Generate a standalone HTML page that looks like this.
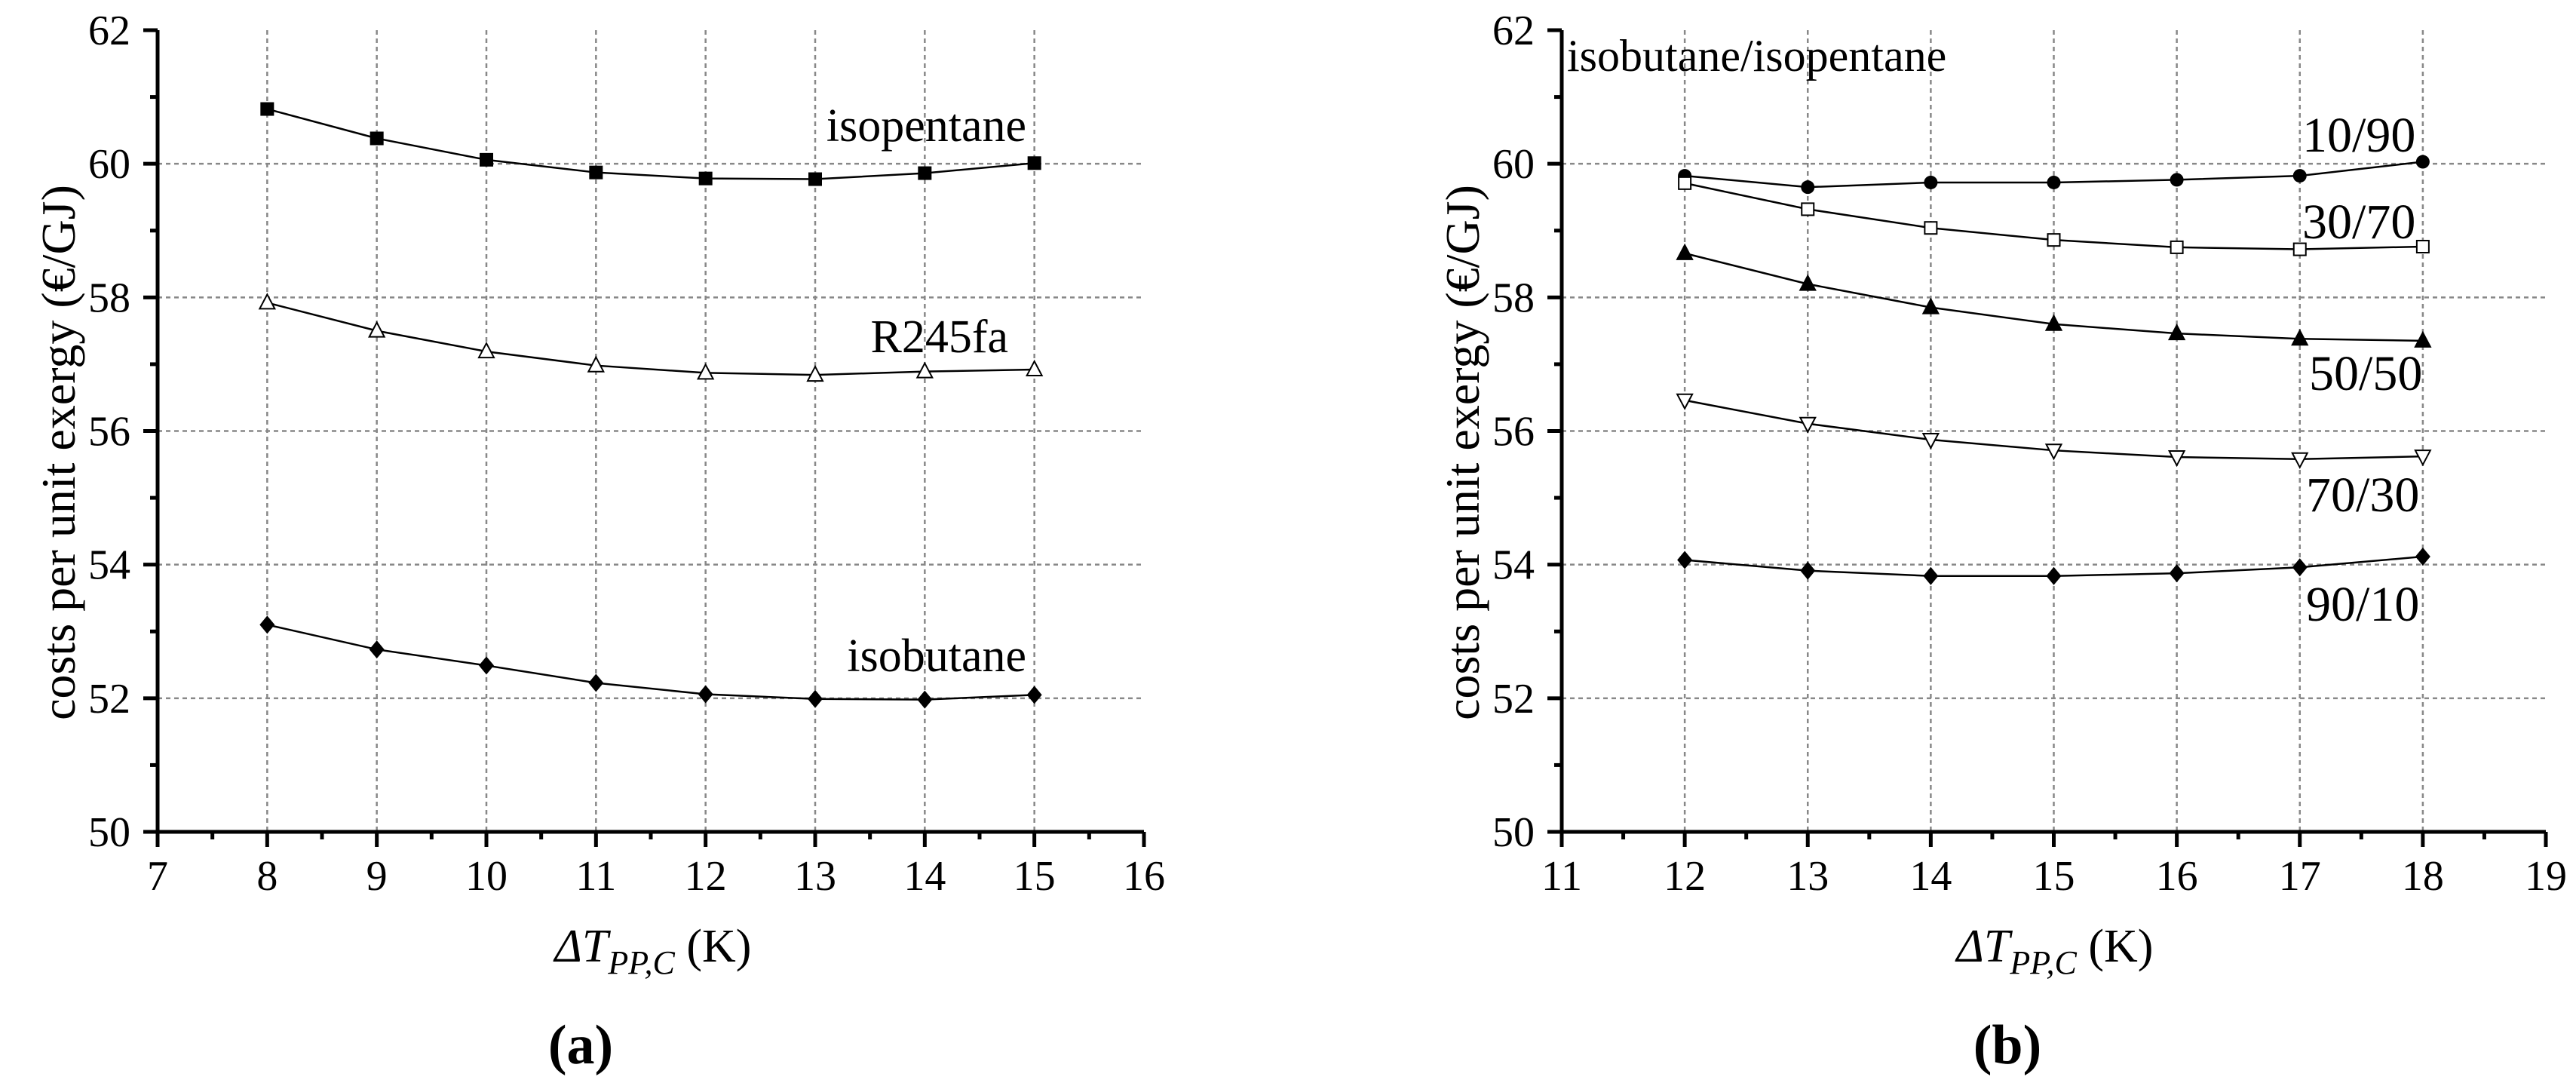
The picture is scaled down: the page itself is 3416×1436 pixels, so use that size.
<!DOCTYPE html>
<html><head><meta charset="utf-8"><style>
html,body{margin:0;padding:0;background:#fff;}
svg{display:block;}
svg text{font-family:"Liberation Serif","DejaVu Serif",serif;fill:#000;}
</style></head><body>
<svg id="fig" width="3416" height="1436" viewBox="0 0 3416 1436" xmlns="http://www.w3.org/2000/svg" font-family="Liberation Serif, DejaVu Serif, serif"></svg>
<script>
const xA = [8,9,10,11,12,13,14,15];
const isopentane = [60.82,60.38,60.06,59.87,59.78,59.77,59.86,60.01];
const r245fa = [57.92,57.50,57.19,56.98,56.87,56.84,56.89,56.92];
const isobutane = [53.10,52.73,52.49,52.23,52.06,51.99,51.98,52.05];
const xB = [12,13,14,15,16,17,18];
const mix1090 = [59.82,59.65,59.72,59.72,59.76,59.82,60.03];
const mix3070 = [59.71,59.32,59.04,58.86,58.75,58.72,58.76];
const mix5050 = [58.66,58.20,57.85,57.60,57.46,57.38,57.35];
const mix7030 = [56.46,56.11,55.87,55.71,55.61,55.58,55.62];
const mix9010 = [54.07,53.91,53.83,53.83,53.87,53.96,54.12];
const yTicks = [50,52,54,56,58,60,62];
const xTicksA = [7,8,9,10,11,12,13,14,15,16];
const xTicksB = [11,12,13,14,15,16,17,18,19];

const NS="http://www.w3.org/2000/svg";
const svg=document.getElementById('fig');
function el(tag,attrs,parent){const e=document.createElementNS(NS,tag);for(const k in attrs)e.setAttribute(k,attrs[k]);(parent||svg).appendChild(e);return e;}

function panel(cfg){
  const g=el('g',{});
  
  
  const y0=1103,y1=40,ymin=50,ymax=62;
  const sx=v=>cfg.left+(v-cfg.xmin)*(cfg.right-cfg.left)/(cfg.xmax-cfg.xmin);
  const sy=v=>y0-(v-ymin)*(y0-y1)/(ymax-ymin);
  cfg.xt.forEach(v=>{ if(v>cfg.xmin&&v<cfg.xmax){const l=el('line',{x1:sx(v),x2:sx(v),y1:y1,y2:y0,stroke:'#888','stroke-width':2.5,'stroke-dasharray':'6,5'},g);
    
    }});
  yTicks.forEach(v=>{ if(v>ymin&&v<ymax){const l=el('line',{x1:cfg.left,x2:cfg.right,y1:sy(v),y2:sy(v),stroke:'#888','stroke-width':2.5,'stroke-dasharray':'6,5'},g);
    
    }});
  const ax=el('path',{d:`M${cfg.left},${y1}V${y0}H${cfg.right}`,fill:'none',stroke:'#000','stroke-width':5},g);
  
  
  cfg.xt.forEach((v,i)=>{
    el('line',{x1:sx(v),x2:sx(v),y1:y0,y2:y0+20,stroke:'#000','stroke-width':5},g);
    if(i<cfg.xt.length-1){const m=(v+cfg.xt[i+1])/2;el('line',{x1:sx(m),x2:sx(m),y1:y0,y2:y0+10,stroke:'#000','stroke-width':5},g);}
    const t=el('text',{x:sx(v),y:1180,'font-size':56,'text-anchor':'middle'},g);t.textContent=v;
    
    
  });
  yTicks.forEach((v,i)=>{
    el('line',{x1:cfg.left-19,x2:cfg.left,y1:sy(v),y2:sy(v),stroke:'#000','stroke-width':5},g);
    if(i<yTicks.length-1){const m=v+1;el('line',{x1:cfg.left-10,x2:cfg.left,y1:sy(m),y2:sy(m),stroke:'#000','stroke-width':5},g);}
    const t=el('text',{x:cfg.left-36,y:sy(v)+19,'font-size':56,'text-anchor':'end'},g);t.textContent=v;
    
    
  });
  const yt=el('text',{x:0,y:0,'font-size':64,'text-anchor':'middle',transform:`translate(${cfg.left-110},600) rotate(-90)`},g);
  yt.textContent='costs per unit exergy (€/GJ)';
  
  
  const xt=el('text',{x:cfg.xtx,y:1275,'font-size':62,'text-anchor':'middle'},g);
  xt.innerHTML='<tspan font-style="italic">ΔT</tspan><tspan font-style="italic" font-size="44" dy="16">PP,C</tspan><tspan dy="-16">  (K)</tspan>';
  
  
  const pl=el('text',{x:cfg.lx,y:1410,'font-size':74,'font-weight':'bold','text-anchor':'middle'},g);
  pl.textContent=cfg.letter;
  
  
  cfg.series.forEach(s=>{
    const sg=el('g',{},g);
    
    
    const pts=cfg.x.map((v,i)=>sx(v)+','+sy(s.y[i])).join(' ');
    el('polyline',{points:pts,fill:'none',stroke:'#000','stroke-width':2.5},sg);
    cfg.x.forEach((v,i)=>{
      const cx=sx(v),cy=sy(s.y[i]);let m;
      if(s.m==='sq'||s.m==='osq') m=el('rect',{x:cx-8,y:cy-8,width:16,height:16,fill:s.m==='sq'?'#000':'#fff',stroke:'#000','stroke-width':2},sg);
      else if(s.m==='dia') m=el('polygon',{points:`${cx},${cy-12} ${cx+10},${cy} ${cx},${cy+12} ${cx-10},${cy}`,fill:'#000'},sg);
      else if(s.m==='otri'||s.m==='tri') m=el('polygon',{points:`${cx},${cy-11} ${cx+10},${cy+8} ${cx-10},${cy+8}`,fill:s.m==='tri'?'#000':'#fff',stroke:'#000','stroke-width':2},sg);
      else if(s.m==='idtri') m=el('polygon',{points:`${cx},${cy+11} ${cx+10},${cy-8} ${cx-10},${cy-8}`,fill:'#fff',stroke:'#000','stroke-width':2},sg);
      else m=el('circle',{cx:cx,cy:cy,r:9,fill:'#000'},sg);
      
      
    });
  });
  cfg.labels.forEach(l=>{
    const t=el('text',{x:l[1],y:l[2],'font-size':l[3],'text-anchor':l[4]||'start'},g);t.textContent=l[0];
    
    
  });
}
panel({name:'panel-a',letter:'(a)',lx:770,xtx:866,left:209,right:1517,xmin:7,xmax:16,xt:xTicksA,x:xA,
  series:[{name:'series-isopentane',y:isopentane,m:'sq'},{name:'series-r245fa',y:r245fa,m:'otri'},{name:'series-isobutane',y:isobutane,m:'dia'}],
  labels:[['isopentane',1361,187,62,'end'],['R245fa',1337,467,62,'end'],['isobutane',1361,890,62,'end']]});
panel({name:'panel-b',letter:'(b)',lx:2662,xtx:2725,left:2071,right:3376,xmin:11,xmax:19,xt:xTicksB,x:xB,
  series:[{name:'series-10-90',y:mix1090,m:'dot'},{name:'series-30-70',y:mix3070,m:'osq'},{name:'series-50-50',y:mix5050,m:'tri'},{name:'series-70-30',y:mix7030,m:'idtri'},{name:'series-90-10',y:mix9010,m:'dia'}],
  labels:[['isobutane/isopentane',2078,94,60],['10/90',3053,201,66],['30/70',3053,316,66],['50/50',3062,517,66],['70/30',3058,678,66],['90/10',3058,823,66]]});
</script>
</body></html>
